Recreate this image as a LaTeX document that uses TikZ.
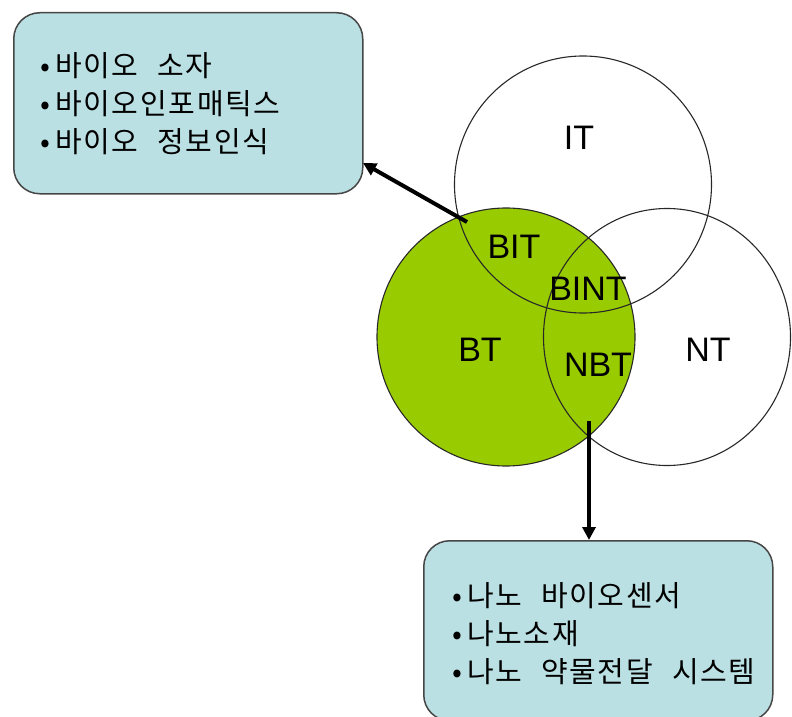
\documentclass[tikz,border=0pt]{standalone}
\usepackage{fontspec}
\setmainfont{Liberation Sans}
\newfontfamily\kr[LetterSpace=6]{Noto Sans CJK KR}
\usetikzlibrary{arrows.meta,shapes.geometric}
\definecolor{btgreen}{RGB}{153,204,0}
\definecolor{boxfill}{RGB}{187,224,227}
\definecolor{boxline}{RGB}{70,70,70}
\definecolor{ringline}{RGB}{40,40,40}
% bullet and word gap used in the box lists
\newcommand\itemdot{•\hspace{5pt}}
\newcommand\wgap{\hspace{19pt}}
\begin{document}
\begin{tikzpicture}[x=1pt,y=-1pt,
  infobox/.style={draw=boxline, line width=1.5pt, fill=boxfill,
    rounded corners=26pt, rectangle, inner sep=0pt, anchor=north west},
  infotext/.style={font=\kr\fontsize{29}{38}\selectfont, align=left,
    anchor=west, inner sep=0pt},
  ring/.style={draw=ringline, line width=1.1pt, inner sep=0pt},
  tag/.style={font=\fontsize{34}{34}\selectfont, inner sep=0pt},
  pointer/.style={line width=4pt, -{Triangle[length=13pt,width=13pt]}}]
\useasboundingbox (0,0) rectangle (792,717);

% three technology circles
\node[ring, circle, fill=btgreen, minimum size=258pt] (BT) at (506,337) {};
\node[ring, circle, minimum size=257pt] (IT) at (583,184.5) {};
\node[ring, ellipse, minimum width=247pt, minimum height=257pt] (NT) at (667,337) {};

% region labels
\node[tag] (lIT)   at (579,138) {IT};
\node[tag] (lBIT)  at (514,247) {BIT};
\node[tag] (lBINT) at (588,289) {BINT};
\node[tag] (lBT)   at (480,350) {BT};
\node[tag] (lNBT)  at (598,365) {NBT};
\node[tag] (lNT)   at (708,350) {NT};

% application boxes
\node[infobox, minimum width=349pt, minimum height=181pt] (bitbox) at (13,12) {};
\node[infotext] (bittext) at (40,104)
  {\itemdot 바이오\wgap 소자\\\itemdot 바이오인포매틱스\\\itemdot 바이오\wgap 정보인식};

\node[infobox, minimum width=349pt, minimum height=180pt] (nbtbox) at (423,540) {};
\node[infotext] (nbttext) at (452,634)
  {\itemdot 나노\wgap 바이오센서\\\itemdot 나노소재\\\itemdot 나노\wgap 약물전달\wgap 시스템};

% arrows from the overlap regions to the boxes
\coordinate (bitpt) at (467,222);
\coordinate (bittip) at (363,163);
\coordinate (nbtpt) at (589,421);
\draw[pointer] (bitpt) -- (bittip);
\draw[pointer] (nbtpt) -- (nbtpt |- nbtbox.north);
\end{tikzpicture}
\end{document}
